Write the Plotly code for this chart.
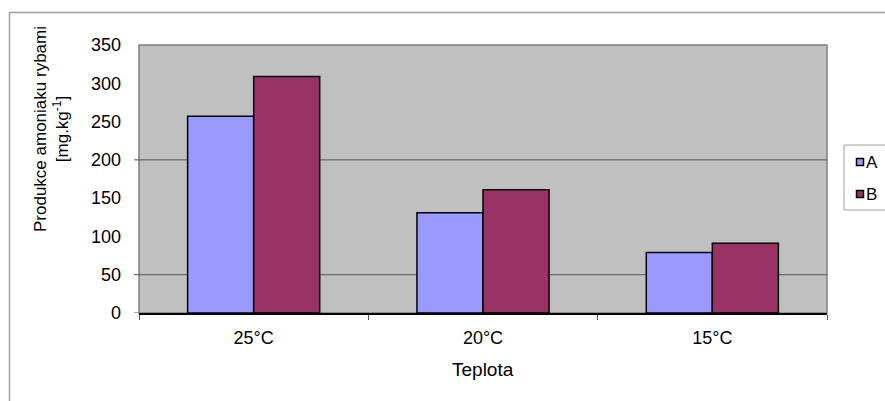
import plotly.graph_objects as go

# Ammonia production by fish at three temperatures
categories = ["25°C", "20°C", "15°C"]
series_a = [257, 131, 79]
series_b = [309, 161, 91]
series_names = ["A", "B"]
series_colors = ["#9999FF", "#993366"]
y_ticks = [0, 50, 100, 150, 200, 250, 300, 350]
grid_values = [50, 200]
tick_mark_values = [0, 50, 200]

W, H = 885, 401
ML, MR, MT, MB = 139, 58, 45, 88
PW, PH = W - ML - MR, H - MT - MB

FONT = "Liberation Sans, Arial, sans-serif"
TXT = 18


def px(x):
    return (x - ML) / PW


def py(y):
    return (H - MB - y) / PH


fig = go.Figure()
for name, vals, col in zip(series_names, [series_a, series_b], series_colors):
    fig.add_trace(go.Bar(
        x=categories, y=vals, name=name,
        marker=dict(color=col, line=dict(color="black", width=1.5)),
        showlegend=False,
    ))

shapes = []
# plot area frame
shapes.append(dict(type="rect", xref="paper", yref="paper", x0=0, x1=1, y0=0, y1=1,
                   line=dict(color="#808080", width=1.5), layer="below"))
# horizontal gridlines
for v in grid_values:
    shapes.append(dict(type="line", xref="paper", yref="y", x0=0, x1=1, y0=v, y1=v,
                       line=dict(color="#555555", width=1), layer="below"))
# y tick marks
for v in tick_mark_values:
    shapes.append(dict(type="line", xref="paper", yref="y", x0=px(ML - 5), x1=0, y0=v, y1=v,
                       line=dict(color="#555555", width=1)))
# outer chart border
shapes.append(dict(type="rect", xref="paper", yref="paper",
                   x0=px(9.5), x1=px(W + 10), y0=py(H + 10), y1=py(12.5),
                   line=dict(color="#A0A0A0", width=1.5)))
# legend box
shapes.append(dict(type="rect", xref="paper", yref="paper",
                   x0=px(844), x1=px(W + 10), y0=py(210), y1=py(145),
                   line=dict(color="#A0A0A0", width=1)))
annotations = []
for i, (name, col) in enumerate(zip(series_names, series_colors)):
    cy = 162 + 32 * i
    shapes.append(dict(type="rect", xref="paper", yref="paper",
                       x0=px(856.5), x1=px(863.5), y0=py(cy + 3.5), y1=py(cy - 3.5),
                       fillcolor=col, line=dict(color="black", width=1.5)))
    annotations.append(dict(text=name, xref="paper", yref="paper", x=px(864), y=py(cy),
                            xanchor="left", yanchor="middle", showarrow=False,
                            font=dict(family=FONT, size=17, color="black")))

# axis titles
annotations.append(dict(text="Produkce amoniaku rybami<br>[mg.kg<sup>-1</sup>]",
                        xref="paper", yref="paper", x=px(51), y=py(129),
                        xanchor="center", yanchor="middle", textangle=-90, showarrow=False,
                        font=dict(family=FONT, size=17, color="black")))
annotations.append(dict(text="Teplota", xref="paper", yref="paper", x=0.5, y=py(369),
                        xanchor="center", yanchor="middle", showarrow=False,
                        font=dict(family=FONT, size=19, color="black")))

fig.update_layout(
    width=W, height=H,
    margin=dict(l=ML, r=MR, t=MT, b=MB, autoexpand=False),
    paper_bgcolor="white", plot_bgcolor="#C0C0C0",
    barmode="group", bargap=0.424, bargroupgap=0,
    showlegend=False,
    shapes=shapes, annotations=annotations,
    font=dict(family=FONT, size=TXT, color="black"),
)
fig.update_xaxes(
    showline=True, linecolor="black", linewidth=1.5,
    ticks="outside", tickson="boundaries", ticklen=5, tickcolor="#555555",
    ticklabelstandoff=8, showgrid=False,
    tickfont=dict(family=FONT, size=TXT, color="black"),
)
fig.update_yaxes(
    range=[0, 350], tickvals=y_ticks, showgrid=False, zeroline=False,
    ticks="", ticklabelstandoff=17,
    tickfont=dict(family=FONT, size=TXT, color="black"),
)

fig.write_html("out.html")
